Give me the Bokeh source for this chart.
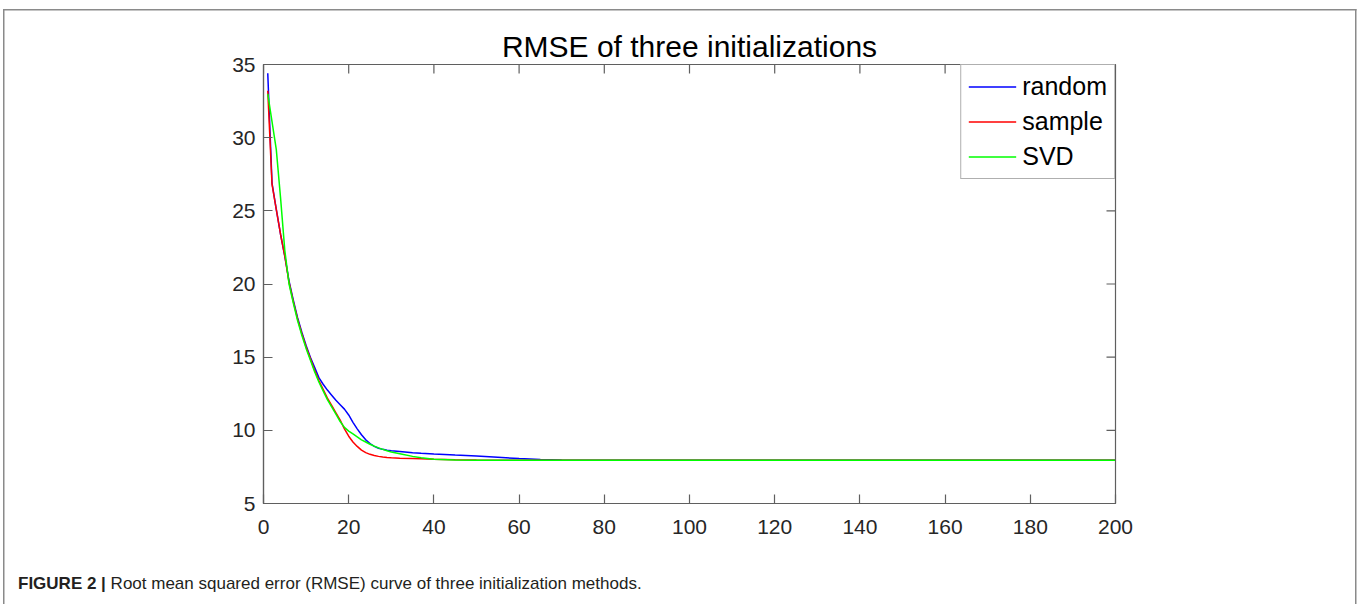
import math
from bokeh.plotting import figure
from bokeh.layouts import column
from bokeh.models import (Range1d, LinearAxis, FixedTicker, Legend, LegendItem, Div)
from bokeh.embed import file_html
from bokeh.resources import INLINE

# ---------------- data ----------------
iters = [1, 2, 3, 4, 5, 6, 7, 8, 9, 10, 11, 12, 13, 14, 15, 16, 17, 18, 19, 20,
         21, 22, 23, 24, 25, 26, 27, 28, 29, 30, 32, 35, 37, 40, 45, 50, 55, 60,
         65, 70, 75, 80, 90, 100, 120, 140, 160, 180, 200]

rmse_random = [34.4, 26.9, 25.1, 23.4, 21.9, 20.2, 18.9, 17.7, 16.7, 15.8,
               15.0, 14.3, 13.6, 13.15, 12.75, 12.4, 12.05, 11.75, 11.45, 11.05,
               10.55, 10.1, 9.7, 9.35, 9.1, 8.9, 8.78, 8.7, 8.64, 8.6,
               8.55, 8.47, 8.43, 8.38, 8.31, 8.25, 8.16, 8.07,
               8.01, 7.98, 7.96, 7.95, 7.95, 7.95, 7.95, 7.95, 7.95, 7.95, 7.95]

rmse_sample = [33.2, 26.8, 25.1, 23.4, 21.9, 20.1, 18.8, 17.6, 16.6, 15.7,
               14.9, 14.1, 13.4, 12.8, 12.2, 11.7, 11.2, 10.7, 10.1, 9.6,
               9.2, 8.9, 8.65, 8.48, 8.36, 8.28, 8.22, 8.18, 8.15, 8.13,
               8.1, 8.07, 8.05, 8.02, 7.99, 7.97, 7.96, 7.95,
               7.95, 7.95, 7.95, 7.95, 7.95, 7.95, 7.95, 7.95, 7.95, 7.95, 7.95]

rmse_svd = [33.0, 31.1, 29.2, 25.9, 22.3, 20.0, 18.7, 17.5, 16.5, 15.6,
            14.8, 14.0, 13.3, 12.7, 12.1, 11.6, 11.1, 10.6, 10.2, 9.95,
            9.75, 9.55, 9.35, 9.2, 9.05, 8.92, 8.8, 8.7, 8.6, 8.52,
            8.4, 8.22, 8.12, 8.03, 7.98, 7.96, 7.95, 7.95,
            7.95, 7.95, 7.95, 7.95, 7.95, 7.95, 7.95, 7.95, 7.95, 7.95, 7.95]

series_names = ["random", "sample", "SVD"]
series_colors = ["#0000ff", "#ff0000", "#00ff00"]
x_ticks = [0, 20, 40, 60, 80, 100, 120, 140, 160, 180, 200]
y_ticks = [5, 10, 15, 20, 25, 30, 35]
title_text = "RMSE of three initializations"
caption_bold = "FIGURE 2 |"
caption_text = "Root mean squared error (RMSE) curve of three initialization methods."

FONT = "Liberation Sans"
AX = "#5f5f5f"
TXT = "#262626"
X0, X1, Y0, Y1 = 0, 200, 5, 35

p = figure(width=1360, height=560, output_backend="svg", toolbar_location=None,
           x_range=Range1d(X0, X1), y_range=Range1d(Y0, Y1),
           x_axis_location=None, y_axis_location=None,
           min_border_left=263, min_border_right=245,
           min_border_top=64, min_border_bottom=57)
p.background_fill_color = "white"
p.border_fill_color = None
p.outline_line_color = AX
p.outline_line_width = 1.2
p.xgrid.visible = False
p.ygrid.visible = False

p.title.text = title_text
p.title.text_font = FONT
p.title.text_font_size = "30px"
p.title.text_font_style = "normal"
p.title.text_color = "#000000"
p.title.align = "center"
p.title.standoff = 3

def style_axis(ax):
    ax.axis_line_color = AX
    ax.axis_line_width = 1.2
    ax.major_tick_line_color = AX
    ax.major_tick_line_width = 1.2
    ax.major_tick_in = 9
    ax.major_tick_out = 0
    ax.minor_tick_line_color = None
    ax.major_label_text_font = FONT
    ax.major_label_text_color = TXT
    ax.major_label_text_font_size = "21px"

bx = LinearAxis(ticker=FixedTicker(ticks=x_ticks))
style_axis(bx)
bx.major_label_standoff = 16
p.add_layout(bx, "below")
ly = LinearAxis(ticker=FixedTicker(ticks=y_ticks))
style_axis(ly)
ly.major_label_standoff = 8
p.add_layout(ly, "left")

# inward ticks on the top and right edges of the box (MATLAB "box on")
p.ray(x=x_ticks, y=[Y1] * len(x_ticks), length=9, length_units="screen",
      angle=-math.pi / 2, line_color=AX, line_width=1.2)
p.ray(x=[X1] * len(y_ticks), y=y_ticks, length=9, length_units="screen",
      angle=math.pi, line_color=AX, line_width=1.2)

items = []
for name, ys, col in zip(series_names, [rmse_random, rmse_sample, rmse_svd], series_colors):
    r = p.line(iters, ys, line_color=col, line_width=1.5)
    items.append(LegendItem(label=name, renderers=[r]))

legend = Legend(items=items, location="top_right", margin=0, padding=7,
                label_text_font=FONT, label_text_font_size="25px",
                label_text_color="#000000", glyph_width=48, glyph_height=29,
                label_height=29, spacing=6, label_standoff=6,
                border_line_color=AX, border_line_width=1.2,
                background_fill_color="white", background_fill_alpha=1.0)
p.add_layout(legend)

caption = Div(
    text=(f'<div style="padding:9px 0 0 13px;font-family:\'{FONT}\';font-size:17px;'
          f'color:#231f20;white-space:nowrap;line-height:20px">'
          f'<b>{caption_bold}</b> {caption_text}</div>'),
    width=1360, height=44)

frame_css = {
    "background-color": "white",
    "background-image": ("linear-gradient(#8a8a8a,#8a8a8a), "
                         "linear-gradient(#8a8a8a,#8a8a8a), "
                         "linear-gradient(#8a8a8a,#8a8a8a)"),
    "background-position": "3px 9px, 3px 9px, 1355px 9px",
    "background-size": "1.5px 640px, 1353.5px 1.5px, 1.5px 640px",
    "background-repeat": "no-repeat",
}
layout = column(p, caption, spacing=0, styles=frame_css)

open("out.html", "w").write(file_html(layout, INLINE))
